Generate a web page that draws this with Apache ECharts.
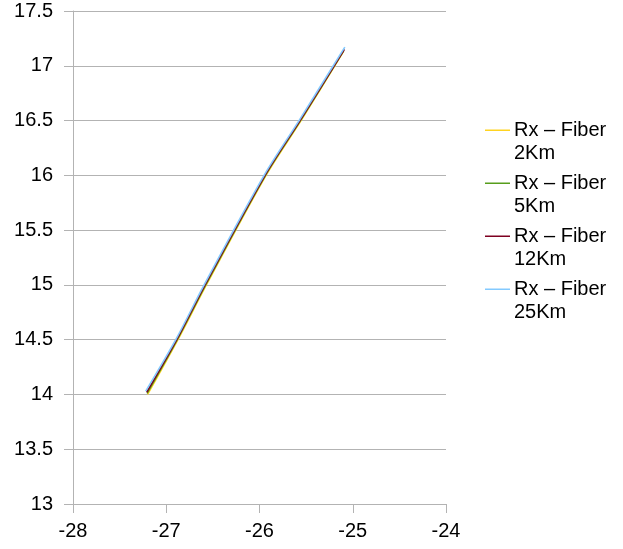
<!DOCTYPE html>
<html>
<head>
<meta charset="utf-8">
<script src="https://cdn.jsdelivr.net/npm/echarts@6/dist/echarts.min.js"></script>
<style>
  html, body { margin: 0; padding: 0; background: #ffffff; }
  #chart { width: 623px; height: 549px; }
</style>
</head>
<body>
<div id="chart"></div>
<script>
// Received power curves, one per fiber length
const seriesNames = ['Rx – Fiber 2Km', 'Rx – Fiber 5Km', 'Rx – Fiber 12Km', 'Rx – Fiber 25Km'];
const seriesColors = ['#ffd320', '#579d1c', '#7e0021', '#83caff'];

const x2Km  = [-27.200, -26.875, -26.570, -25.930, -25.555, -25.100];
const y2Km  = [14.00, 14.50, 15.00, 16.00, 16.50, 17.13];
const x5Km  = [-27.205, -26.882, -26.577, -25.936, -25.561, -25.095];
const y5Km  = [14.01, 14.50, 15.00, 16.00, 16.50, 17.14];
const x12Km = [-27.210, -26.888, -26.584, -25.941, -25.566, -25.090];
const y12Km = [14.02, 14.50, 15.00, 16.00, 16.50, 17.15];
const x25Km = [-27.220, -26.898, -26.594, -25.951, -25.576, -25.085];
const y25Km = [14.03, 14.50, 15.00, 16.00, 16.50, 17.17];

const xValues = [x2Km, x5Km, x12Km, x25Km];
const yValues = [y2Km, y5Km, y12Km, y25Km];

// Axis ranges
const xMin = -28, xMax = -24, xStep = 1;
const yMin = 13, yMax = 17.5, yStep = 0.5;

const FONT = '"Liberation Sans", Arial, sans-serif';
const GRID_GRAY = '#b3b3b3';

const series = seriesNames.map((name, i) => ({
  name: name,
  type: 'line',
  showSymbol: false,
  symbol: 'none',
  smooth: 0.3,
  lineStyle: { color: seriesColors[i], width: 1.6 },
  itemStyle: { color: seriesColors[i] },
  data: xValues[i].map((x, k) => [x, yValues[i][k]]),
  z: 2 + i
}));

// Legend glyph: short line near the top of a taller box so it sits beside the first text line
const legendIcon = 'path://M0,0H25V1.6H0Z M0,24.9H0.01V25H0Z';

const chart = echarts.init(document.getElementById('chart'), null, { renderer: 'canvas' });
chart.setOption({
  animation: false,
  backgroundColor: '#ffffff',
  textStyle: { fontFamily: FONT },
  grid: { left: 73, top: 11, width: 373, height: 493, containLabel: false },
  legend: {
    orient: 'vertical',
    left: 485,
    top: 119,
    icon: legendIcon,
    itemWidth: 25,
    itemHeight: 25,
    itemGap: 7,
    padding: 0,
    data: seriesNames,
    formatter: name => name.replace(/ (\d+Km)$/, '\n$1'),
    textStyle: {
      fontFamily: FONT,
      fontSize: 20,
      lineHeight: 23,
      color: '#000000',
      padding: [0, 0, 0, -1]
    }
  },
  xAxis: {
    type: 'value',
    min: xMin,
    max: xMax,
    interval: xStep,
    axisLine: { show: true, onZero: false, lineStyle: { color: GRID_GRAY, width: 1 } },
    axisTick: { show: true, inside: false, length: 9, lineStyle: { color: GRID_GRAY } },
    splitLine: { show: false },
    axisLabel: { color: '#000000', fontSize: 20, fontFamily: FONT, margin: 17 }
  },
  yAxis: {
    type: 'value',
    min: yMin,
    max: yMax,
    interval: yStep,
    axisLine: { show: true, onZero: false, lineStyle: { color: GRID_GRAY, width: 1 } },
    axisTick: { show: true, inside: false, length: 9, lineStyle: { color: GRID_GRAY } },
    splitLine: { show: true, lineStyle: { color: GRID_GRAY, width: 1 } },
    axisLabel: { color: '#000000', fontSize: 20, fontFamily: FONT, margin: 20 }
  },
  series: series
});
</script>
</body>
</html>
